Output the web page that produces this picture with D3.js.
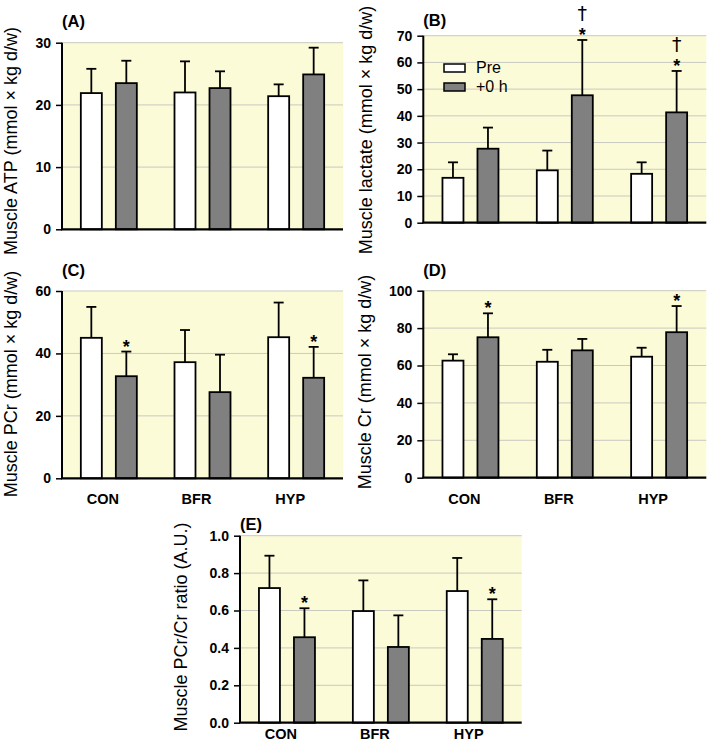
<!DOCTYPE html>
<html>
<head>
<meta charset="utf-8">
<script src="https://cdn.jsdelivr.net/npm/d3@7"></script>
<style>
  body { margin: 0; background: #fff; }
  svg { display: block; font-family: Arial, "Liberation Sans", sans-serif; }
  .tick-label { font-weight: bold; font-size: 14px; }
  .axis-title { font-size: 18px; }
  .panel-label { font-weight: bold; font-size: 16.5px; }
  .group-label { font-weight: bold; font-size: 14.5px; }
  .mark { font-weight: bold; font-size: 18px; fill: #000; }
  .dagger { font-size: 19px; fill: #000; font-family: "DejaVu Sans", sans-serif; }
</style>
</head>
<body>
<div id="chart"></div>
<script>
// groups and series
const groups = ["CON", "BFR", "HYP"];
const series = ["Pre", "+0 h"];

// (A) muscle ATP
const atpPre = [21.9, 22.0, 21.4], atpPreSD = [3.9, 5.0, 1.9];
const atpPost = [23.5, 22.7, 24.9], atpPostSD = [3.6, 2.7, 4.3];
const atpTicks = [0, 10, 20, 30];

// (B) muscle lactate
const lacPre = [16.8, 19.6, 18.3], lacPreSD = [5.8, 7.4, 4.3];
const lacPost = [27.7, 47.7, 41.3], lacPostSD = [7.9, 20.7, 15.5];
const lacTicks = [0, 10, 20, 30, 40, 50, 60, 70];
const lacMarks = [[], ["*", "†"], ["*", "†"]];

// (C) muscle PCr
const pcrPre = [45.0, 37.2, 45.2], pcrPreSD = [9.9, 10.3, 11.1];
const pcrPost = [32.7, 27.6, 32.2], pcrPostSD = [7.9, 12.0, 9.9];
const pcrTicks = [0, 20, 40, 60];
const pcrMarks = [["*"], [], ["*"]];

// (D) muscle Cr
const crPre = [62.6, 62.0, 64.7], crPreSD = [3.4, 6.4, 4.8];
const crPost = [75.1, 68.1, 77.8], crPostSD = [12.8, 6.1, 14.0];
const crTicks = [0, 20, 40, 60, 80, 100];
const crMarks = [["*"], [], ["*"]];

// (E) PCr/Cr ratio
const ratioPre = [0.72, 0.597, 0.704], ratioPreSD = [0.173, 0.164, 0.177];
const ratioPost = [0.457, 0.405, 0.448], ratioPostSD = [0.155, 0.169, 0.212];
const ratioTicks = [0, 0.2, 0.4, 0.6, 0.8, 1.0];
const ratioMarks = [["*"], [], ["*"]];

const fills = {"Pre": "#ffffff", "+0 h": "#808080"};

const svg = d3.select("#chart").append("svg")
    .attr("width", 709)
    .attr("height", 754);

// one bar panel; box = plot area in page pixels
function panel(opt) {
    let x0 = opt.box[0], y0 = opt.box[1], w = opt.box[2], h = opt.box[3],
        yMax = opt.ticks[opt.ticks.length - 1],
        y = d3.scaleLinear().domain([0, yMax]).range([y0 + h, y0]),
        x = d3.scaleBand().domain(groups).range([x0, x0 + w]).padding(0),
        xs = d3.scaleBand().domain(series).range([x.bandwidth() / 2 - 28, x.bandwidth() / 2 + 28]).paddingInner(0.4),
        g = svg.append("g");

    let rows = [];
    groups.forEach((gr, i) => {
        rows.push({group: gr, s: "Pre", v: opt.pre[i], sd: opt.preSD[i], marks: []});
        rows.push({group: gr, s: "+0 h", v: opt.post[i], sd: opt.postSD[i], marks: opt.marks ? opt.marks[i] : []});
    });

    // background
    g.append("rect")
        .attr("x", x0).attr("y", y0)
        .attr("width", w).attr("height", h)
        .attr("fill", "#fcfbd8");

    // gridlines
    g.selectAll(".grid").data(opt.ticks.slice(1)).join("line")
        .attr("x1", x0).attr("x2", x0 + w)
        .attr("y1", d => y(d)).attr("y2", d => y(d))
        .attr("stroke", "#c9c9c0").attr("stroke-width", 1);

    // error bars
    let cx = d => x(d.group) + xs(d.s) + xs.bandwidth() / 2;
    g.selectAll(".err").data(rows).join("line")
        .attr("x1", cx).attr("x2", cx)
        .attr("y1", d => y(d.v)).attr("y2", d => y(d.v + d.sd))
        .attr("stroke", "#000").attr("stroke-width", 1.8);
    g.selectAll(".cap").data(rows).join("line")
        .attr("x1", d => cx(d) - 5).attr("x2", d => cx(d) + 5)
        .attr("y1", d => y(d.v + d.sd)).attr("y2", d => y(d.v + d.sd))
        .attr("stroke", "#000").attr("stroke-width", 1.8);

    // bars
    g.selectAll(".bar").data(rows).join("rect")
        .attr("x", d => x(d.group) + xs(d.s))
        .attr("y", d => y(d.v))
        .attr("width", xs.bandwidth())
        .attr("height", d => y(0) - y(d.v))
        .attr("fill", d => fills[d.s])
        .attr("stroke", "#000").attr("stroke-width", 1.8);

    // significance marks (star first, dagger above it)
    rows.forEach(d => {
        d.marks.forEach((m, k) => {
            g.append("text").classed(k === 0 ? "mark" : "dagger", true)
                .attr("x", cx(d)).attr("text-anchor", "middle")
                .attr("y", y(d.v + d.sd) + (k === 0 ? 1 : -20))
                .text(m);
        });
    });

    // y axis
    let yAxis = g.append("g")
        .attr("transform", `translate(${x0},0)`)
        .call(d3.axisLeft(y).tickValues(opt.ticks).tickSize(6).tickPadding(5).tickFormat(opt.fmt || d3.format("d")));
    yAxis.select(".domain").attr("stroke-width", 2).attr("d", `M0,${y0 + h}V${y0}`);
    yAxis.selectAll(".tick line").attr("stroke-width", 1.5);
    yAxis.selectAll(".tick text").classed("tick-label", true).attr("font-size", null).attr("font-family", null).attr("fill", "#000");

    // baseline
    g.append("line")
        .attr("x1", x0 - 1).attr("x2", x0 + w)
        .attr("y1", y(0)).attr("y2", y(0))
        .attr("stroke", "#000").attr("stroke-width", 2.2);

    // group labels
    if (opt.groupLabelY) {
        g.selectAll(".glabel").data(groups).join("text")
            .classed("group-label", true)
            .attr("x", d => x(d) + x.bandwidth() / 2 - 6)
            .attr("y", opt.groupLabelY)
            .attr("text-anchor", "middle")
            .text(d => d);
    }

    // y title
    g.append("text").classed("axis-title", true)
        .attr("transform", `translate(${opt.titleX},${opt.titleY || (y0 + h / 2)}) rotate(-90)`)
        .attr("text-anchor", "middle")
        .attr("dy", "0.35em")
        .text(opt.title);

    // panel label
    g.append("text").classed("panel-label", true)
        .attr("x", x0).attr("y", opt.labelY)
        .text(opt.label);

    return {g: g, x: x, y: y};
}

panel({box: [62, 42.7, 281, 186.6], ticks: atpTicks, pre: atpPre, preSD: atpPreSD, post: atpPost, postSD: atpPostSD,
    title: "Muscle ATP (mmol × kg d/w)", titleX: 11, titleY: 141, label: "(A)", labelY: 27});

let b = panel({box: [423.3, 35.7, 283, 187], ticks: lacTicks, pre: lacPre, preSD: lacPreSD, post: lacPost, postSD: lacPostSD,
    marks: lacMarks, title: "Muscle lactate (mmol × kg d/w)", titleX: 366, titleY: 130, label: "(B)", labelY: 26});

panel({box: [62, 291, 281, 187.3], ticks: pcrTicks, pre: pcrPre, preSD: pcrPreSD, post: pcrPost, postSD: pcrPostSD,
    marks: pcrMarks, title: "Muscle PCr (mmol × kg d/w)", titleX: 11, titleY: 384, label: "(C)", labelY: 276, groupLabelY: 504});

panel({box: [423.3, 290.7, 283, 187], ticks: crTicks, pre: crPre, preSD: crPreSD, post: crPost, postSD: crPostSD,
    marks: crMarks, title: "Muscle Cr (mmol × kg d/w)", titleX: 365, titleY: 382, label: "(D)", labelY: 276, groupLabelY: 504});

panel({box: [240, 535.7, 281.7, 187], ticks: ratioTicks, pre: ratioPre, preSD: ratioPreSD, post: ratioPost, postSD: ratioPostSD,
    marks: ratioMarks, fmt: d3.format(".1f"), title: "Muscle PCr/Cr ratio (A.U.)", titleX: 181, titleY: 627, label: "(E)", labelY: 530, groupLabelY: 739});

// legend in panel B
let legend = b.g.append("g").attr("transform", "translate(444,64)");
legend.selectAll("rect").data(series).join("rect")
    .attr("x", 0).attr("y", (d, i) => i * 19)
    .attr("width", 21).attr("height", 8)
    .attr("fill", d => fills[d])
    .attr("stroke", "#000").attr("stroke-width", 1.5);
legend.selectAll("text").data(series).join("text")
    .attr("x", 32).attr("y", (d, i) => i * 19 + 9)
    .attr("font-size", 16)
    .text(d => d);
</script>
</body>
</html>
